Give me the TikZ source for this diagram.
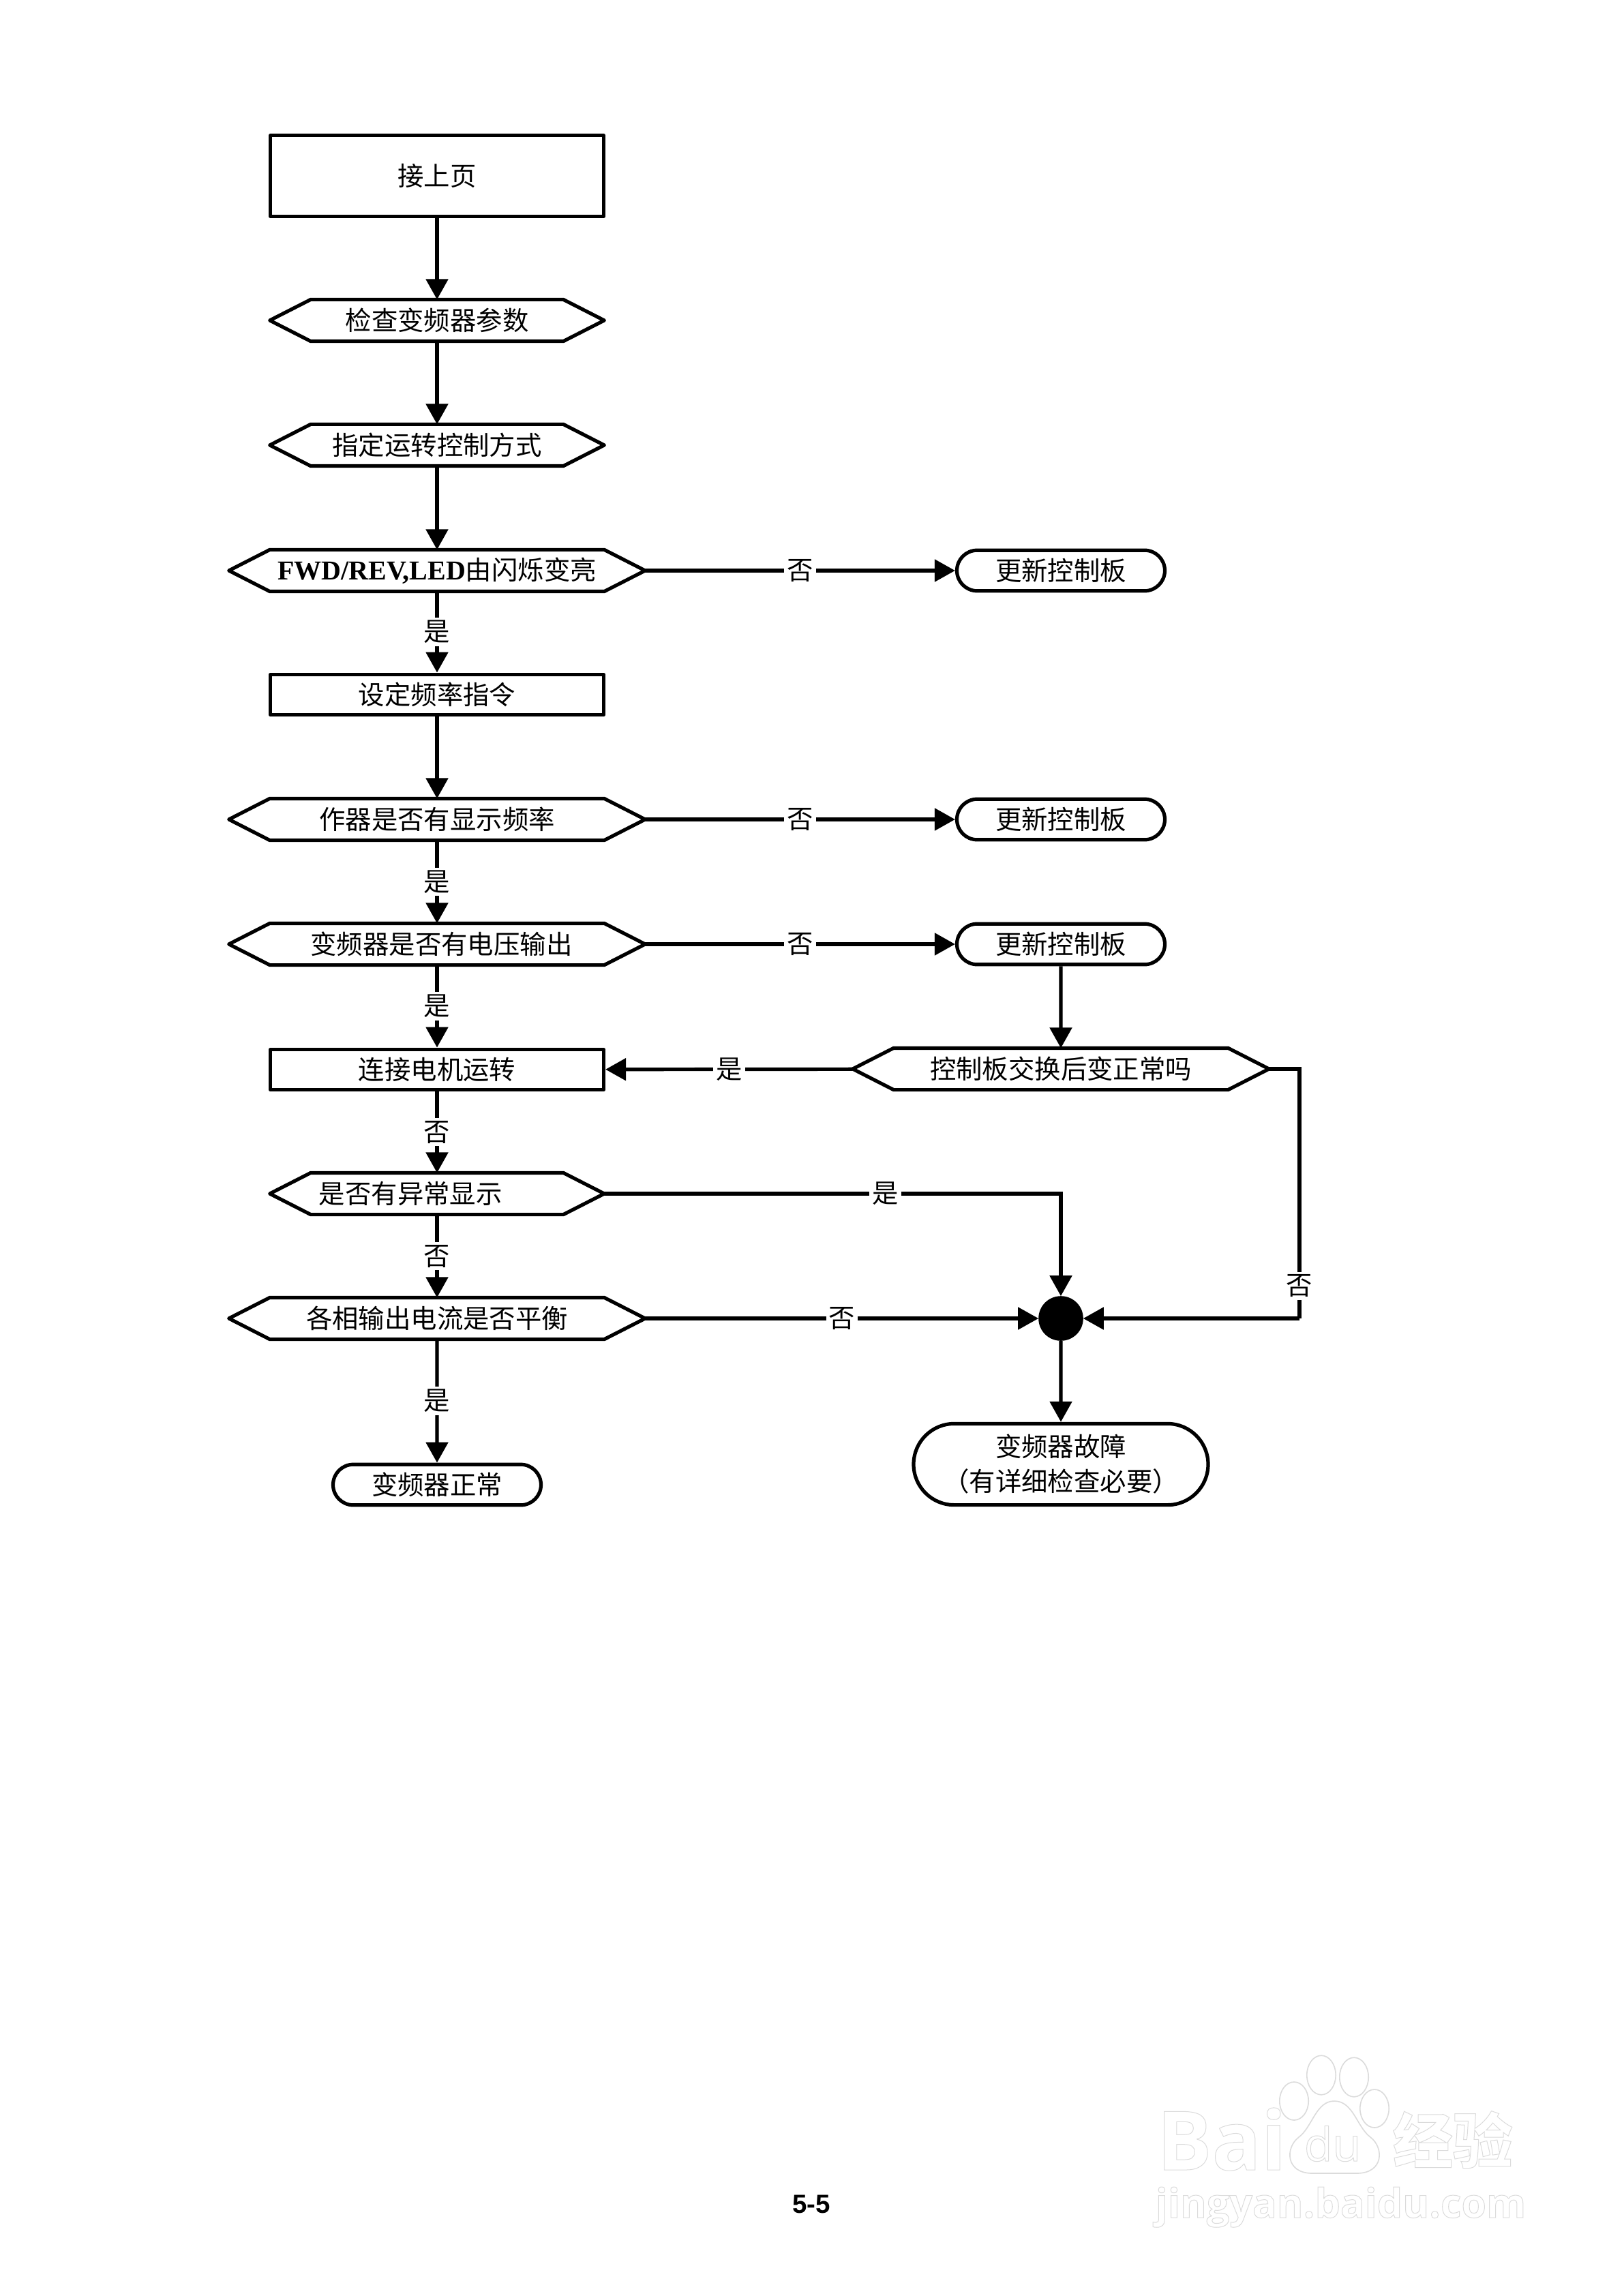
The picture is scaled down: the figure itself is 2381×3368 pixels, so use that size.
\documentclass[tikz,border=0pt]{standalone}
\usepackage{fontspec}
\setmainfont{Noto Sans CJK SC}
\newfontfamily\latinb{Liberation Serif}
\newfontfamily\pagefont{Liberation Sans}
\newfontfamily\markfont{Open Sans}
\usetikzlibrary{arrows.meta,shapes.misc}
\tikzset{
  basebox/.style={draw=black,line width=1.3pt,fill=white,inner sep=0pt,font=\fontsize{9.6pt}{12.6pt}\selectfont,align=center,line join=round},
  rectbox/.style={basebox,rectangle,minimum width=122.25pt},
  hexbox/.style={rectangle,inner sep=0pt,minimum height=14.9pt,font=\fontsize{9.6pt}{12.6pt}\selectfont,
    append after command={\pgfextra{\let\hexlast\tikzlastnode
      \draw[draw=black,line width=1.3pt,line join=round]
      (\hexlast.west) -- ([xshift=15pt]\hexlast.north west) -- ([xshift=-15pt]\hexlast.north east)
      -- (\hexlast.east) -- ([xshift=-15pt]\hexlast.south east) -- ([xshift=15pt]\hexlast.south west) -- cycle;}}},
  hexnarrow/.style={hexbox,minimum width=122.25pt},
  hexwide/.style={hexbox,minimum width=152.25pt},
  term/.style={basebox,rounded rectangle,minimum height=14.9pt,minimum width=76.25pt},
  flow/.style={line width=1.3pt,-{Triangle[length=7.5pt,width=8pt]}},
  plain/.style={line width=1.3pt},
  lbl/.style={fill=white,inner sep=1pt,font=\fontsize{9.6pt}{12pt}\selectfont},
}
\newcommand{\outlinetext}[1]{\special{pdf:code q 1 Tr 0.25 w 0.86 G}#1\special{pdf:code Q}}
\begin{document}
\begin{tikzpicture}[x=0.25pt,y=-0.25pt]
\fill[white] (0,0) rectangle (2381,3368);
\useasboundingbox (0,0) rectangle (2381,3368);
% main column
\node[rectbox,minimum height=29.6pt] (start) at (641,258) {接上页};
\node[hexnarrow] (h1) at (641,470) {检查变频器参数};
\node[hexnarrow] (h2) at (641,653) {指定运转控制方式};
\node[hexwide] (h3) at (641,837) {{\latinb\bfseries\fontsize{10pt}{12.6pt}\selectfont FWD/REV,LED}由闪烁变亮};
\node[rectbox,minimum height=14.9pt] (setf) at (641,1019) {设定频率指令};
\node[hexwide] (h4) at (641,1202) {作器是否有显示频率};
\node[hexwide] (h5) at (641,1385) {\hspace*{3.2pt}变频器是否有电压输出};
\node[rectbox,minimum height=14.9pt] (conn) at (641,1569) {连接电机运转};
\node[hexnarrow] (h6) at (641,1751) {是否有异常显示\hspace*{19.4pt}};
\node[hexwide] (h7) at (641,1934) {各相输出电流是否平衡};
\node[term] (ok) at (641,2178) {变频器正常};
% right column
\node[term] (u1) at (1556,837) {更新控制板};
\node[term] (u2) at (1556,1202) {更新控制板};
\node[term] (u3) at (1556,1385) {更新控制板};
\node[hexwide] (ctrl) at (1556,1568) {控制板交换后变正常吗};
\node[circle,fill=black,draw=black,inner sep=0pt,minimum size=16pt] (dot) at (1556,1934) {};
\node[basebox,rounded rectangle,minimum width=108pt,minimum height=29.8pt] (fault) at (1556,2148) {\raisebox{1.1pt}{变频器故障}\\\raisebox{1.1pt}{（有详细检查必要）}};
\coordinate (rc) at (1906,1568);
\coordinate (rd) at (1906,1934);
% connectors
\draw[flow] (start) -- (h1);
\draw[flow] (h1) -- (h2);
\draw[flow] (h2) -- (h3);
\draw[flow] (h3) -- node[lbl] (l1) {是} (setf);
\draw[flow] (setf) -- (h4);
\draw[flow] (h4) -- node[lbl] (l2) {是} (h5);
\draw[flow] (h5) -- node[lbl] (l3) {是} (conn);
\draw[flow] (conn) -- node[lbl] (l4) {否} (h6);
\draw[flow] (h6) -- node[lbl] (l5) {否} (h7);
\draw[flow] (h7) -- node[lbl] (l6) {是} (ok);
\draw[flow] (h3) -- node[lbl] (l7) {否} (u1);
\draw[flow] (h4) -- node[lbl] (l8) {否} (u2);
\draw[flow] (h5) -- node[lbl] (l9) {否} (u3);
\draw[flow] (u3) -- (ctrl);
\draw[flow] (ctrl) -- node[lbl] (l10) {是} (conn);
\draw[flow] (h6.east) -| node[lbl,pos=.3077] (l11) {是} (dot.north);
\draw[flow] (h7) -- node[lbl] (l12) {否} (dot);
\draw[plain] (ctrl.east) -- (rc) -- node[lbl,pos=.87] (l13) {否} (rd);
\draw[flow] (rd) -- (dot);
\draw[flow] (dot) -- (fault);
% page number
\node[inner sep=0pt,font=\pagefont\bfseries\fontsize{9.6pt}{12pt}\selectfont] (pg) at (1190,3233) {5-5};
% watermark
\node[inner sep=0pt,anchor=base west,font=\markfont\bfseries\fontsize{30pt}{31pt}\selectfont] (wm1) at (1696,3183) {\outlinetext{Bai}};
\node[inner sep=0pt,anchor=base west,font=\markfont\fontsize{17pt}{18pt}\selectfont] (wm2) at (1912,3170) {\outlinetext{du}};
\node[inner sep=0pt,anchor=base west,font=\bfseries\fontsize{22pt}{23pt}\selectfont] (wm3) at (2042,3173) {\outlinetext{经验}};
\node[inner sep=0pt,anchor=base west,font=\markfont\bfseries\fontsize{14.8pt}{16pt}\selectfont] (wm4) at (1694,3253) {\outlinetext{jingyan.baidu.com}};
\begin{scope}[draw=black!14,line width=0.4pt]
\draw (1898,3082) ellipse [x radius=5.3pt,y radius=7pt];
\draw (1938,3044) ellipse [x radius=5.3pt,y radius=7.2pt];
\draw (1986,3047) ellipse [x radius=5.3pt,y radius=7.2pt];
\draw (2016,3093) ellipse [x radius=5.3pt,y radius=7pt];
\draw (1957,3082) .. controls (1985,3082) and (1990,3120) .. (2010,3135) .. controls (2030,3150) and (2030,3188) .. (1990,3188) .. controls (1970,3188) and (1945,3188) .. (1925,3188) .. controls (1885,3188) and (1885,3150) .. (1905,3135) .. controls (1925,3120) and (1930,3082) .. (1957,3082);
\end{scope}
\end{tikzpicture}
\end{document}
